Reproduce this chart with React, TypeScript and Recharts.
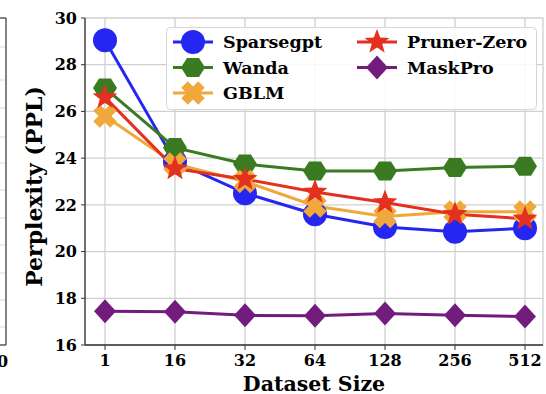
import React from 'react'
import {
  LineChart,
  Line,
  XAxis,
  YAxis,
  CartesianGrid,
} from 'recharts'

const sizes = ['1', '16', '32', '64', '128', '256', '512']
const sparsegpt = [29.05, 23.85, 22.5, 21.6, 21.05, 20.85, 21.0]
const wanda = [27.0, 24.45, 23.75, 23.45, 23.45, 23.6, 23.65]
const gblm = [25.8, 23.75, 23.0, 21.95, 21.5, 21.7, 21.7]
const prunerZero = [26.6, 23.55, 23.1, 22.55, 22.1, 21.6, 21.4]
const maskPro = [17.45, 17.42, 17.27, 17.25, 17.35, 17.27, 17.22]
const yTicks = [16, 18, 20, 22, 24, 26, 28, 30]

const FONT = '"DejaVu Serif", serif'

const data = sizes.map((s, i) => ({
  size: s,
  sparsegpt: sparsegpt[i],
  wanda: wanda[i],
  gblm: gblm[i],
  prunerZero: prunerZero[i],
  maskPro: maskPro[i],
}))

type MarkerKind = 'circle' | 'hexagon' | 'x' | 'star' | 'diamond'

function Marker({ kind, cx, cy, color }: { kind: MarkerKind; cx: number; cy: number; color: string }) {
  if (kind === 'circle') return <circle cx={cx} cy={cy} r={12} fill={color} />
  if (kind === 'hexagon') {
    const pts = []
    for (let k = 0; k < 6; k++) {
      const a = (Math.PI / 3) * k
      pts.push(`${cx + 12 * Math.cos(a)},${cy + 11 * Math.sin(a)}`)
    }
    return <polygon points={pts.join(' ')} fill={color} />
  }
  if (kind === 'diamond') {
    return <polygon points={`${cx},${cy - 12} ${cx + 11},${cy} ${cx},${cy + 12} ${cx - 11},${cy}`} fill={color} />
  }
  if (kind === 'star') {
    const pts = []
    for (let k = 0; k < 10; k++) {
      const r = k % 2 === 0 ? 13 : 5.5
      const a = -Math.PI / 2 + (Math.PI / 5) * k
      pts.push(`${cx + r * Math.cos(a)},${cy + r * Math.sin(a)}`)
    }
    return <polygon points={pts.join(' ')} fill={color} />
  }
  // filled X
  const w = 4.6
  const L = 12
  const base = [
    [-w, -L], [w, -L], [w, -w], [L, -w], [L, w], [w, w],
    [w, L], [-w, L], [-w, w], [-L, w], [-L, -w], [-w, -w],
  ]
  const c = Math.SQRT1_2
  const pts = base.map(([x, y]) => `${cx + (x - y) * c},${cy + (x + y) * c}`)
  return <polygon points={pts.join(' ')} fill={color} />
}

const series: { key: string; name: string; color: string; kind: MarkerKind }[] = [
  { key: 'sparsegpt', name: 'Sparsegpt', color: '#2626f2', kind: 'circle' },
  { key: 'wanda', name: 'Wanda', color: '#3a7b22', kind: 'hexagon' },
  { key: 'gblm', name: 'GBLM', color: '#f0a83a', kind: 'x' },
  { key: 'prunerZero', name: 'Pruner-Zero', color: '#e3301f', kind: 'star' },
  { key: 'maskPro', name: 'MaskPro', color: '#721d7d', kind: 'diamond' },
]

const legendPos: Record<string, [number, number]> = {
  sparsegpt: [0, 0],
  wanda: [0, 1],
  gblm: [0, 2],
  prunerZero: [1, 0],
  maskPro: [1, 1],
}

function LegendBox() {
  return (
    <svg width={372} height={84} style={{ position: 'absolute', left: 166, top: 27 }}>
      <rect x={0.5} y={0.5} width={370} height={82} rx={4} fill="rgba(255,255,255,0.85)" stroke="#d6d6d6" />
      {series.map((s) => {
        const [col, row] = legendPos[s.key]
        const mx = col === 0 ? 27 : 211
        const my = 15 + row * 25.5
        return (
          <g key={s.key}>
            <line x1={mx - 20} x2={mx + 20} y1={my} y2={my} stroke={s.color} strokeWidth={3} />
            <Marker kind={s.kind} cx={mx} cy={my} color={s.color} />
            <text x={mx + 30} y={my + 6} fontFamily={FONT} fontWeight="bold" fontSize={17.5} fill="#000">
              {s.name}
            </text>
          </g>
        )
      })}
    </svg>
  )
}

function NeighbourEdge() {
  const grid = [47, 80, 108, 137, 163, 190, 218, 245, 273, 300, 327]
  return (
    <svg width={20} height={394} style={{ position: 'absolute', left: 0, top: 0 }}>
      {grid.map((y) => (
        <line key={y} x1={0} x2={6} y1={y} y2={y} stroke="#dcdcdc" strokeWidth={1} />
      ))}
      <line x1={0} x2={6} y1={18} y2={18} stroke="#333" strokeWidth={1.2} />
      <line x1={0} x2={6} y1={345} y2={345} stroke="#333" strokeWidth={1.2} />
      <line x1={6} x2={6} y1={18} y2={345} stroke="#333" strokeWidth={1.2} />
      <text x={-3} y={367} fontFamily={FONT} fontWeight="bold" fontSize={16} fill="#000">0</text>
    </svg>
  )
}

const tickStyle = { fontFamily: FONT, fontWeight: 'bold', fontSize: 16, fill: '#000' }

export default function App() {
  return (
    <div style={{ position: 'absolute', left: 0, top: 0, width: 546, height: 394, background: '#fff' }}>
      <LineChart width={546} height={394} data={data} margin={{ top: 18, right: 3, left: 0, bottom: 0 }}>
        <CartesianGrid stroke="#cfcfcf" strokeWidth={1.3} />
        <XAxis
          dataKey="size"
          type="category"
          padding={{ left: 20, right: 18 }}
          height={49}
          tick={tickStyle}
          tickSize={5}
          tickMargin={5}
          axisLine={{ stroke: '#333', strokeWidth: 1.3 }}
          tickLine={{ stroke: '#333' }}
          label={{
            value: 'Dataset Size',
            position: 'insideBottom',
            offset: 3,
            style: { fontFamily: FONT, fontWeight: 'bold', fontSize: 20.5, fill: '#000' },
          }}
        />
        <XAxis xAxisId="top" orientation="top" height={0} tick={false} tickLine={false} axisLine={{ stroke: '#333', strokeWidth: 1.3 }} />
        <YAxis
          domain={[16, 30]}
          ticks={yTicks}
          width={85}
          tick={tickStyle}
          tickSize={4}
          tickMargin={4}
          axisLine={{ stroke: '#333', strokeWidth: 1.3 }}
          tickLine={{ stroke: '#333' }}
          label={(props: any) => {
            const vb = props.viewBox || { x: 0, y: 18, width: 85, height: 327 }
            const cx = 34
            const cy = vb.y + vb.height / 2 + 5
            return (
              <text
                x={cx}
                y={cy}
                transform={`rotate(-90 ${cx} ${cy})`}
                textAnchor="middle"
                dominantBaseline="central"
                fontFamily={FONT}
                fontWeight="bold"
                fontSize={22}
                fill="#000"
              >
                Perplexity (PPL)
              </text>
            )
          }}
        />
        <YAxis yAxisId="right" orientation="right" width={0} tick={false} tickLine={false} axisLine={{ stroke: '#333', strokeWidth: 1.3 }} domain={[16, 30]} />
        {series.map((s) => (
          <Line
            key={s.key}
            dataKey={s.key}
            name={s.name}
            stroke={s.color}
            strokeWidth={3}
            type="linear"
            isAnimationActive={false}
            dot={(p: any) => <Marker key={`${s.key}-${p.index}`} kind={s.kind} cx={p.cx} cy={p.cy} color={s.color} />}
            activeDot={false}
          />
        ))}
      </LineChart>
      <LegendBox />
      <NeighbourEdge />
    </div>
  )
}
